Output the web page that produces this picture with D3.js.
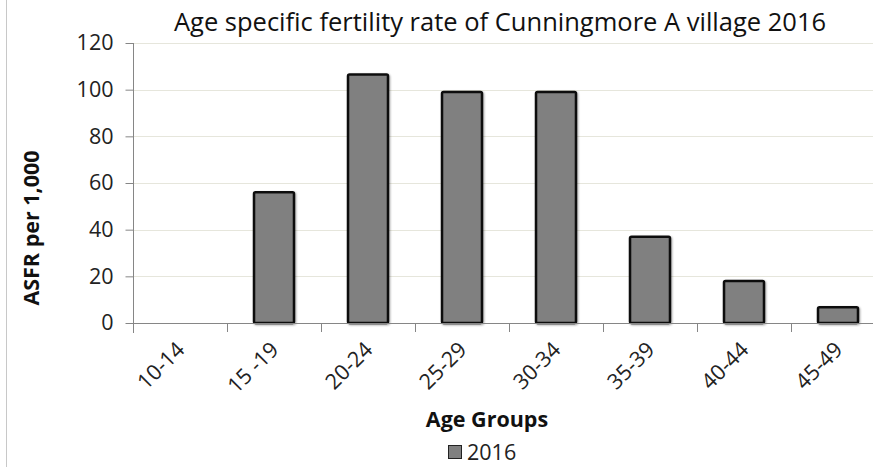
<!DOCTYPE html>
<html>
<head>
<meta charset="utf-8">
<script src="https://cdn.jsdelivr.net/npm/d3@7"></script>
<style>
  body { margin: 0; background: #fff; }
  svg { display: block; font-family: "Open Sans", "Liberation Sans", sans-serif; }
</style>
</head>
<body>
<svg id="chart"></svg>
<script>
// chart data
const ageGroups = ["10-14", "15 -19", "20-24", "25-29", "30-34", "35-39", "40-44", "45-49"];
const asfr2016 = [0, 56, 106.5, 99, 99, 37, 18, 6.7];
const yTicks = [0, 20, 40, 60, 80, 100, 120];

const width = 873, height = 467;
const svg = d3.select("#chart").attr("width", width).attr("height", height);

// plot area
const plotLeft = 133, plotTop = 43, plotBottom = 323, bandW = 94;
const x = d3.scaleBand().domain(ageGroups).range([plotLeft, plotLeft + bandW * ageGroups.length]).paddingInner(0.575).paddingOuter(0.2875);
const y = d3.scaleLinear().domain([0, 120]).range([plotBottom, plotTop]);

// outer border on the left
svg.append("line").attr("x1", 6.5).attr("x2", 6.5).attr("y1", 0).attr("y2", height)
  .attr("stroke", "#c8c8c8").attr("stroke-width", 1);

// gridlines
svg.append("g").selectAll("line")
  .data(yTicks.filter(d => d > 0))
  .enter().append("line")
    .attr("x1", plotLeft).attr("x2", width)
    .attr("y1", d => Math.round(y(d)) + 0.5).attr("y2", d => Math.round(y(d)) + 0.5)
    .attr("stroke", "#e6e6dc");

// shadow filter for bars
const defs = svg.append("defs");
const f = defs.append("filter").attr("id", "sh").attr("x", "-20%").attr("y", "-20%").attr("width", "140%").attr("height", "140%");
f.append("feGaussianBlur").attr("in", "SourceAlpha").attr("stdDeviation", 1.2);
f.append("feOffset").attr("dx", 1).attr("dy", 1).attr("result", "b");
f.append("feComponentTransfer").append("feFuncA").attr("type", "linear").attr("slope", 0.35);
const m = f.append("feMerge");
m.append("feMergeNode");
m.append("feMergeNode").attr("in", "SourceGraphic");

// bars
svg.append("g").selectAll("rect")
  .data(ageGroups.map((g, i) => ({ g, v: asfr2016[i] })).filter(d => d.v > 0))
  .enter().append("rect")
    .attr("x", d => x(d.g))
    .attr("y", d => y(d.v))
    .attr("width", x.bandwidth())
    .attr("height", d => y(0) - y(d.v))
    .attr("fill", "#808080")
    .attr("stroke", "#111")
    .attr("stroke-width", 2.5)
    .attr("rx", 1.5)
    .attr("filter", "url(#sh)");

// y axis
const yAxis = d3.axisLeft(y).tickValues(yTicks).tickSize(8).tickPadding(12);
const gy = svg.append("g").attr("transform", `translate(${plotLeft + 0.5},0)`).call(yAxis);
gy.select(".domain").attr("d", `M0,${plotTop}V${plotBottom + 10}`).attr("stroke", "#868686");
gy.selectAll(".tick line").attr("stroke", "#868686");
gy.selectAll(".tick text").attr("font-size", 21.5).attr("fill", "#222")
  .attr("font-family", "'Open Sans', sans-serif");

// x axis line and ticks at band edges
const edges = ageGroups.map((g, i) => plotLeft + bandW * i);
svg.append("line").attr("x1", plotLeft).attr("x2", width)
  .attr("y1", plotBottom + 0.5).attr("y2", plotBottom + 0.5).attr("stroke", "#868686");
svg.append("g").selectAll("line").data(edges).enter().append("line")
  .attr("x1", d => d + 0.5).attr("x2", d => d + 0.5)
  .attr("y1", plotBottom).attr("y2", plotBottom + 9).attr("stroke", "#868686");

// x labels rotated
svg.append("g").selectAll("text").data(ageGroups).enter().append("text")
  .attr("transform", d => `translate(${x(d) + x.bandwidth() / 2 + 6},${plotBottom + 28}) rotate(-45)`)
  .attr("text-anchor", "end")
  .attr("font-size", 21.5)
  .attr("fill", "#222")
  .text(d => d);

// title
svg.append("text").attr("x", 500).attr("y", 31).attr("text-anchor", "middle")
  .attr("font-size", 25.5).attr("fill", "#111")
  .text("Age specific fertility rate of Cunningmore A village 2016");

// axis titles
svg.append("text").attr("transform", "translate(39,228) rotate(-90)")
  .attr("text-anchor", "middle").attr("font-size", 21.5).attr("font-weight", "bold").attr("fill", "#111")
  .text("ASFR per 1,000");
svg.append("text").attr("x", 487).attr("y", 427).attr("text-anchor", "middle")
  .attr("font-size", 21.5).attr("font-weight", "bold").attr("fill", "#111")
  .text("Age Groups");

// legend
svg.append("rect").attr("x", 448.5).attr("y", 445.5).attr("width", 13).attr("height", 13)
  .attr("fill", "#808080").attr("stroke", "#222").attr("stroke-width", 1);
svg.append("text").attr("x", 467).attr("y", 460).attr("font-size", 21.5).attr("fill", "#222").text("2016");
</script>
</body>
</html>
